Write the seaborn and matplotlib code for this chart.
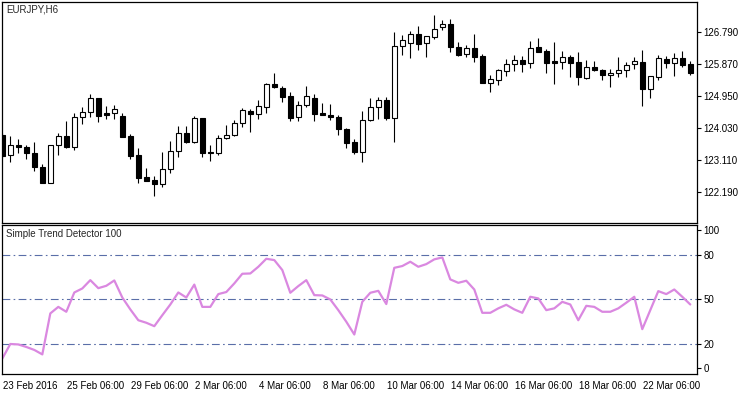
import numpy as np
import pandas as pd
import matplotlib
matplotlib.use("Agg")
import matplotlib.pyplot as plt
import matplotlib.transforms as mtransforms
import seaborn as sns

# ---- data (EURJPY, H6) ----
opens = [123.84, 123.25, 123.54, 123.50, 123.31, 122.91, 122.47, 123.54, 123.80, 123.50,
         124.35, 124.49, 124.89, 124.46, 124.46, 124.38, 123.81, 123.26, 122.62, 122.54,
         122.44, 122.85, 123.37, 123.89, 123.64, 124.33, 123.35, 123.31, 123.75, 123.83,
         124.17, 124.53, 124.43, 124.65, 125.30, 125.18, 124.96, 124.35, 124.69, 124.90,
         124.46, 124.41, 124.35, 124.02, 123.64, 123.36, 124.26, 124.63, 124.84, 124.34,
         126.40, 126.47, 126.74, 126.47, 126.66, 126.93, 127.03, 126.36, 126.16, 126.33,
         126.11, 125.34, 125.42, 125.69, 125.87, 125.99, 125.90, 126.36, 126.25, 125.96,
         125.93, 126.08, 125.94, 125.48, 125.79, 125.71, 125.55, 125.62, 125.70, 125.87,
         125.94, 125.15, 125.51, 126.01, 125.92, 126.05, 125.87]
highs = [123.90, 123.81, 123.71, 123.55, 123.65, 123.00, 123.55, 123.90, 124.25, 124.46,
         124.63, 125.01, 124.90, 124.67, 124.70, 124.46, 123.87, 123.47, 122.90, 122.66,
         123.35, 123.67, 124.10, 124.10, 124.38, 124.34, 123.55, 123.84, 124.13, 124.27,
         124.61, 124.59, 124.84, 125.32, 125.63, 125.25, 125.07, 124.82, 125.25, 125.01,
         124.75, 124.72, 124.41, 124.05, 123.71, 124.53, 124.89, 124.92, 124.92, 126.80,
         126.71, 126.83, 126.97, 126.69, 127.29, 127.14, 127.17, 126.51, 126.42, 126.74,
         126.17, 125.56, 125.74, 126.01, 126.14, 126.11, 126.54, 126.64, 126.32, 126.51,
         126.25, 126.13, 126.22, 125.99, 125.97, 125.74, 125.74, 126.08, 125.94, 126.07,
         126.28, 125.54, 126.14, 126.11, 126.19, 126.24, 125.97]
lows = [123.18, 123.07, 123.33, 123.16, 122.81, 122.46, 122.46, 123.26, 123.45, 123.41,
        124.15, 124.36, 124.22, 124.29, 124.29, 123.78, 123.16, 122.47, 122.52, 122.08,
        122.35, 122.74, 123.21, 123.62, 123.62, 123.21, 123.10, 123.27, 123.71, 123.81,
        124.06, 123.93, 124.29, 124.46, 125.18, 124.80, 124.25, 124.25, 124.63, 124.25,
        124.40, 124.27, 123.85, 123.46, 123.29, 123.07, 124.25, 124.30, 124.27, 123.65,
        126.14, 126.06, 126.29, 126.09, 126.60, 126.86, 126.23, 126.12, 126.07, 125.95,
        125.32, 125.08, 125.28, 125.53, 125.69, 125.66, 125.76, 126.23, 125.61, 125.31,
        125.74, 125.50, 125.27, 125.44, 125.67, 125.42, 125.23, 125.51, 125.51, 125.73,
        124.68, 124.91, 125.42, 125.76, 125.53, 125.80, 125.56]
closes = [123.24, 123.54, 123.50, 123.31, 122.91, 122.47, 123.54, 123.80, 123.50, 124.35,
          124.49, 124.89, 124.39, 124.42, 124.58, 123.79, 123.24, 122.61, 122.52, 122.44,
          122.85, 123.37, 123.89, 123.64, 124.33, 123.33, 123.33, 123.75, 123.83, 124.17,
          124.56, 124.43, 124.66, 125.30, 125.23, 124.94, 124.34, 124.69, 124.95, 124.45,
          124.40, 124.35, 124.02, 123.62, 123.35, 124.26, 124.63, 124.84, 124.34, 126.40,
          126.56, 126.74, 126.46, 126.68, 126.89, 127.03, 126.36, 126.15, 126.33, 126.09,
          125.34, 125.45, 125.70, 125.88, 125.99, 125.89, 126.33, 126.23, 125.92, 125.92,
          126.08, 125.92, 125.50, 125.78, 125.71, 125.55, 125.62, 125.71, 125.85, 125.97,
          125.15, 125.53, 126.04, 125.92, 126.04, 125.85, 125.63]

trend = [10.2, 20.0, 19.7, 18.0, 16.0, 13.0, 40.6, 45.0, 41.7, 54.7,
         57.4, 63.0, 57.6, 59.2, 62.8, 51.3, 43.3, 36.0, 34.3, 32.0,
         39.4, 46.6, 54.7, 51.3, 60.0, 45.0, 45.0, 53.6, 55.0, 60.8,
         67.3, 67.5, 72.0, 77.4, 76.5, 69.8, 54.5, 59.0, 63.0, 52.9,
         52.7, 50.0, 42.8, 35.0, 26.4, 48.4, 54.5, 55.8, 46.9, 71.3,
         72.5, 75.4, 72.0, 73.8, 77.0, 78.3, 63.5, 61.2, 62.6, 56.7,
         41.0, 41.0, 44.0, 46.4, 43.3, 41.0, 51.8, 50.7, 42.8, 44.0,
         48.4, 46.6, 36.0, 45.7, 45.0, 41.7, 41.7, 44.0, 47.8, 51.8,
         30.0, 42.8, 55.6, 53.6, 56.7, 51.8, 46.6]

time_labels = ["23 Feb 2016", "25 Feb 06:00", "29 Feb 06:00", "2 Mar 06:00",
               "4 Mar 06:00", "8 Mar 06:00", "10 Mar 06:00", "14 Mar 06:00",
               "16 Mar 06:00", "18 Mar 06:00", "22 Mar 06:00"]
time_label_bars = [0, 8, 16, 24, 32, 40, 48, 56, 64, 72, 80]
price_ticks = [122.190, 123.110, 124.030, 124.950, 125.870, 126.790]
levels = [20, 50, 80]
level_tick_pos = [4.0, 20, 50, 80, 96.6]
level_tick_labels = ["0", "20", "50", "80", "100"]

# ---- styling ----
sns.set_style("white")
plt.rcParams['font.family'] = ['Liberation Sans', 'DejaVu Sans']
plt.rcParams['font.size'] = 7

df = pd.DataFrame({"open": opens, "high": highs, "low": lows, "close": closes, "trend": trend})
df["bar"] = np.arange(len(df))

W, H = 750, 394
fig = plt.figure(figsize=(W / 100, H / 100), dpi=100)
fig.patch.set_facecolor("white")


def rect(l, t, r, b):
    return [l / W, 1 - b / H, (r - l) / W, (b - t) / H]


ax1 = fig.add_axes(rect(2, 2, 697, 222.7))
ax2 = fig.add_axes(rect(2, 225.2, 697, 373.7))

xlim = (-0.04, 86.84)

# ---- candles ----
up = df["close"] > df["open"]
body_low = np.minimum(df["open"], df["close"])
body_h = np.maximum((df["close"] - df["open"]).abs(), 0.03)
ax1.vlines(df["bar"], df["low"], df["high"], color="black", linewidth=0.8, zorder=2)
ax1.bar(df["bar"], body_h, bottom=body_low, width=0.6,
        color=np.where(up, "white", "black"), edgecolor="black", linewidth=0.8, zorder=3)
ax1.set_xlim(*xlim)
ax1.set_ylim(121.316, 127.661)
ax1.set_xticks([])
ax1.yaxis.tick_right()
ax1.set_yticks(price_ticks)
ax1.set_yticklabels([f"{v:.3f}" for v in price_ticks])
ax1.tick_params(axis="y", direction="out", length=3, width=0.8, pad=1.5, colors="black", labelsize=7)
ax1.annotate("EURJPY,H6", xy=(0, 1), xycoords="axes fraction", xytext=(4, -3),
             textcoords="offset pixels", ha="left", va="top", fontsize=7)

# ---- indicator ----
sns.lineplot(data=df, x="bar", y="trend", ax=ax2, color="#DA88E0", linewidth=1.6)
for lv in levels:
    ax2.axhline(lv, color="#5A6EA8", linewidth=0.8, linestyle=(0, (7, 3, 1.5, 3)), zorder=1)
ax2.set_xlim(*xlim)
ax2.set_ylim(0, 100)
ax2.set_xlabel("")
ax2.set_ylabel("")
ax2.yaxis.tick_right()
ax2.set_yticks(level_tick_pos)
ax2.set_yticklabels(level_tick_labels)
ax2.tick_params(axis="y", direction="out", length=3, width=0.8, pad=1.5, colors="black", labelsize=7)
ax2.set_xticks(time_label_bars)
ax2.set_xticklabels(time_labels)
ax2.tick_params(axis="x", direction="out", length=4, width=0.8, pad=1, colors="black", labelsize=7)
offset = mtransforms.ScaledTranslation(1 / 100, 0, fig.dpi_scale_trans)
for lbl in ax2.get_xticklabels():
    lbl.set_horizontalalignment("left")
    lbl.set_transform(lbl.get_transform() + offset)
ax2.annotate("Simple Trend Detector 100", xy=(0, 1), xycoords="axes fraction", xytext=(4, -4),
             textcoords="offset pixels", ha="left", va="top", fontsize=7)

for ax in (ax1, ax2):
    ax.set_facecolor("white")
    for s in ax.spines.values():
        s.set_visible(True)
        s.set_color("black")
        s.set_linewidth(0.9)
    ax.grid(False)

fig.savefig("out.png", dpi=100, facecolor="white")
